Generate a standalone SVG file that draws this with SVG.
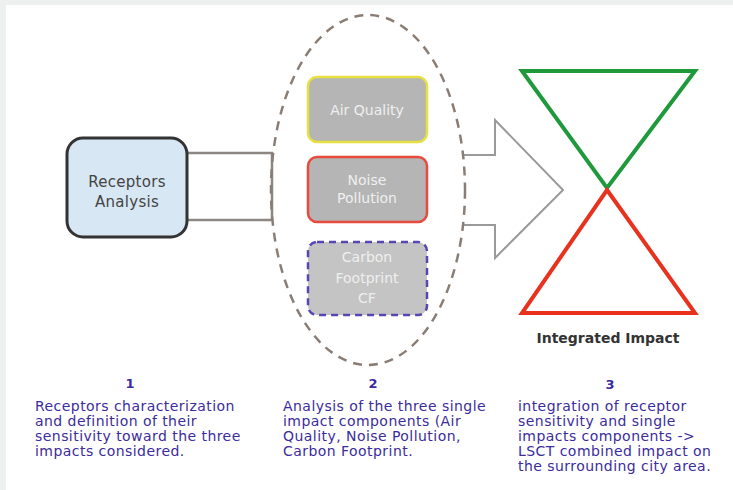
<svg xmlns="http://www.w3.org/2000/svg" width="733" height="490" viewBox="0 0 733 490">
<style>
.desc{font-family:"DejaVu Sans",sans-serif;font-size:14px;letter-spacing:0.45px;fill:#3b2c9c;}
.num{font-family:"DejaVu Sans",sans-serif;font-size:13px;font-weight:bold;fill:#3b2c9c;text-anchor:middle;}
.inner{font-family:"DejaVu Sans",sans-serif;font-size:14px;fill:#efefef;text-anchor:middle;}
.comp{fill:#b5b5b5;stroke-width:2.5;}
</style>
<rect x="0" y="0" width="733" height="490" fill="#eef0ef"/>
<rect x="6" y="5" width="727" height="485" fill="#ffffff"/>
<g id="connectors" fill="none" stroke="#8c8782" stroke-width="2.5">
<path d="M187,153 H272 V220 H187"/>
<path d="M463,155 H495 V120 L563,190 L495,258 V225 H463" stroke="#9a9a9a" stroke-width="2"/>
</g>
<g id="receptors">
<rect x="67" y="138" width="120" height="99" rx="16" fill="#d7e7f3" stroke="#333333" stroke-width="3"/>
<text x="127" y="187" font-family="DejaVu Sans,sans-serif" font-size="15px" letter-spacing="0.3" fill="#444" text-anchor="middle">Receptors</text>
<text x="127" y="207" font-family="DejaVu Sans,sans-serif" font-size="15px" letter-spacing="0.3" fill="#444" text-anchor="middle">Analysis</text>
</g>
<g id="components">
<ellipse cx="368" cy="190" rx="97" ry="175" fill="none" stroke="#8a7d74" stroke-width="2.5" stroke-dasharray="9,7"/>
<g id="air-quality">
<rect class="comp" x="308" y="77" width="119" height="65" rx="9" stroke="#e6e040"/>
<text class="inner" x="367" y="115">Air Quality</text>
</g>
<g id="noise-pollution">
<rect class="comp" x="308" y="157" width="119" height="65" rx="9" stroke="#e84a3c"/>
<text class="inner" x="367" y="185">Noise</text>
<text class="inner" x="367" y="203">Pollution</text>
</g>
<g id="carbon-footprint">
<rect x="308" y="242" width="119" height="73" rx="9" fill="#c4c4c4" stroke="#5a45b5" stroke-width="2.5" stroke-dasharray="7,5"/>
<text class="inner" x="367" y="262" fill="#d8d8d8">Carbon</text>
<text class="inner" x="367" y="283" fill="#d8d8d8">Footprint</text>
<text class="inner" x="367" y="303" fill="#d8d8d8">CF</text>
</g>
</g>
<g id="integrated-impact">
<polygon points="522,71 695,71 607,188" fill="none" stroke="#1e9a3c" stroke-width="4" stroke-linejoin="miter"/>
<polygon points="607,190 695,313 522,313" fill="none" stroke="#e8321e" stroke-width="4"/>
<text x="608" y="343" font-family="DejaVu Sans,sans-serif" font-size="14px" font-weight="bold" fill="#333" text-anchor="middle">Integrated Impact</text>
</g>
<g id="step1">
<text class="num" x="130" y="388">1</text>
<text class="desc" x="35" y="411">Receptors characterization</text>
<text class="desc" x="35" y="426">and definition of their</text>
<text class="desc" x="35" y="441">sensitivity toward the three</text>
<text class="desc" x="35" y="456">impacts considered.</text>
</g>
<g id="step2">
<text class="num" x="373" y="388">2</text>
<text class="desc" x="283" y="411">Analysis of the three single</text>
<text class="desc" x="283" y="426">impact components (Air</text>
<text class="desc" x="283" y="441">Quality, Noise Pollution,</text>
<text class="desc" x="283" y="456">Carbon Footprint.</text>
</g>
<g id="step3">
<text class="num" x="610" y="389">3</text>
<text class="desc" x="518" y="411">integration of receptor</text>
<text class="desc" x="518" y="426">sensitivity and single</text>
<text class="desc" x="518" y="441">impacts components -&gt;</text>
<text class="desc" x="518" y="456">LSCT combined impact on</text>
<text class="desc" x="518" y="471">the surrounding city area.</text>
</g>
</svg>
